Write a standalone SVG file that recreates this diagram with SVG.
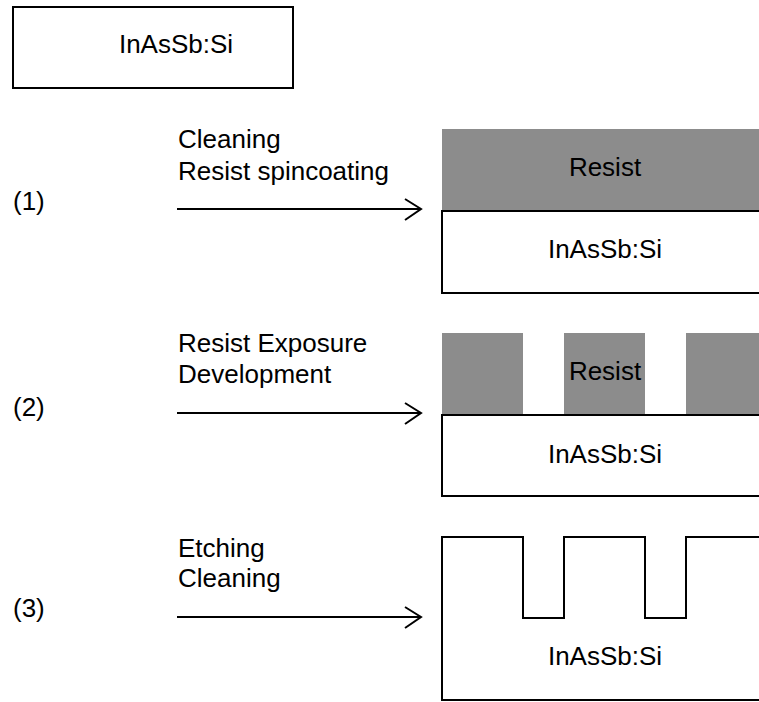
<svg xmlns="http://www.w3.org/2000/svg" width="759" height="702" viewBox="0 0 759 702">
<style>
text{font-family:"Liberation Sans",Arial,sans-serif;font-size:26px;fill:#000}
.c{text-anchor:middle}
.box{fill:#fff;stroke:#000;stroke-width:2}
.resist{fill:#8c8c8c}
.ln{fill:none;stroke:#000;stroke-width:2}
</style>
<g id="legend">
<rect class="box" x="13" y="7" width="280" height="81"/>
<text class="c" x="176" y="53">InAsSb:Si</text>
</g>
<g id="step1">
<text x="13" y="210">(1)</text>
<text x="178" y="148">Cleaning</text>
<text x="178" y="180">Resist spincoating</text>
</g>
<g id="stack1">
<rect class="resist" x="442" y="129" width="320" height="82"/>
<text class="c" x="605" y="176">Resist</text>
<rect class="box" x="442" y="211" width="330" height="82"/>
<text class="c" x="605" y="258">InAsSb:Si</text>
</g>
<g id="step2">
<text x="13" y="416">(2)</text>
<text x="178" y="352">Resist Exposure</text>
<text x="178" y="383">Development</text>
</g>
<g id="stack2">
<rect class="resist" x="442" y="333" width="81" height="82"/>
<rect class="resist" x="564" y="333" width="81" height="82"/>
<rect class="resist" x="686" y="333" width="80" height="82"/>
<text class="c" x="605" y="380">Resist</text>
<rect class="box" x="442" y="415" width="330" height="81"/>
<text class="c" x="605" y="463">InAsSb:Si</text>
</g>
<g id="step3">
<text x="13" y="617">(3)</text>
<text x="178" y="557">Etching</text>
<text x="178" y="587">Cleaning</text>
</g>
<g id="stack3">
<path class="ln" d="M770,537 H686 V618 H645 V537 H564 V618 H523 V537 H442 V700 H770"/>
<text class="c" x="605" y="665">InAsSb:Si</text>
</g>
<g id="connectors">
<path class="ln" d="M177,209 H421 M405,199 L421,209 L405,220"/>
<path class="ln" d="M177,413 H421 M405,403 L421,413 L405,424"/>
<path class="ln" d="M177,617 H421 M405,607 L421,617 L405,628"/>
</g>
</svg>
